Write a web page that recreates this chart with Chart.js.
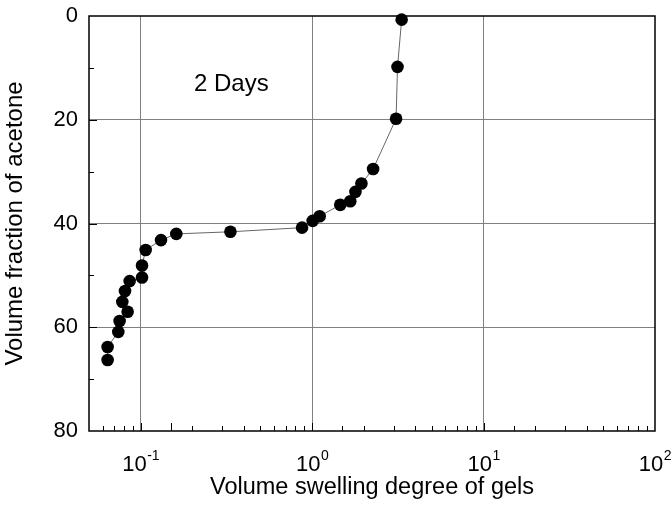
<!DOCTYPE html>
<html>
<head>
<meta charset="utf-8">
<script src="https://cdn.jsdelivr.net/npm/chart.js@4/dist/chart.umd.min.js"></script>
<style>
html, body { margin: 0; padding: 0; background: #fff; }
</style>
</head>
<body>
<canvas id="chart" width="672" height="505"></canvas>
<script>
// Swelling data, ordered from 0 % acetone downwards
const swelling = [3.33, 3.15, 3.09, 2.27, 1.94, 1.79, 1.67, 1.46, 1.107, 1.008, 0.874, 0.334,
    0.1615, 0.1315, 0.107, 0.1019, 0.1019, 0.0863, 0.0811, 0.0782, 0.084, 0.0754, 0.0741, 0.0642, 0.0642];
const acetone = [0.7, 9.8, 19.8, 29.5, 32.3, 33.9, 35.7, 36.4, 38.6, 39.5, 40.8, 41.6,
    42.0, 43.2, 45.1, 48.1, 50.4, 51.1, 53.0, 55.1, 57.0, 58.8, 60.9, 63.8, 66.3];

const xDecades = [0.1, 1, 10, 100];
const xExponents = ['-1', '0', '1', '2'];
const yLabels = [0, 20, 40, 60, 80];
const note = '2 Days';

const FONT = "'Liberation Sans', Arial, sans-serif";
const GRID = '#808080';

function decadeOf(v) {
    return Math.pow(10, Math.floor(Math.log10(v) + 1e-9));
}

// inward ticks, frame, superscript x labels and the text note
const framePlugin = {
    id: 'frame',
    afterDraw(chart) {
        const { ctx, chartArea: a, scales: { x, y } } = chart;
        ctx.save();
        ctx.strokeStyle = '#000';
        ctx.lineWidth = 1;

        x.ticks.forEach(t => {
            const v = t.value;
            if (v <= x.min || v >= x.max) return;
            const m = Math.round(v / decadeOf(v));
            const len = m === 1 ? 8 : 5;
            const px = Math.round(x.getPixelForValue(v)) + 0.5;
            ctx.beginPath();
            ctx.moveTo(px, a.bottom);
            ctx.lineTo(px, a.bottom - len);
            ctx.stroke();
        });

        y.ticks.forEach(t => {
            const v = t.value;
            if (v <= y.min || v >= y.max) return;
            const len = yLabels.includes(v) ? 8 : 5;
            const py = Math.round(y.getPixelForValue(v)) + 0.5;
            ctx.beginPath();
            ctx.moveTo(a.left, py);
            ctx.lineTo(a.left + len, py);
            ctx.stroke();
        });

        ctx.lineWidth = 1.5;
        ctx.strokeRect(a.left, a.top, a.right - a.left, a.bottom - a.top);

        // x tick labels as 10 with superscript exponent
        ctx.fillStyle = '#000';
        ctx.textBaseline = 'alphabetic';
        ctx.textAlign = 'left';
        xDecades.forEach((v, i) => {
            const px = x.getPixelForValue(v);
            ctx.font = '22px ' + FONT;
            const wBase = ctx.measureText('10').width;
            ctx.font = '14px ' + FONT;
            const wExp = ctx.measureText(xExponents[i]).width;
            const start = px - (wBase + wExp) / 2;
            ctx.font = '22px ' + FONT;
            ctx.fillText('10', start, a.bottom + 40);
            ctx.font = '14px ' + FONT;
            ctx.fillText(xExponents[i], start + wBase + 0.5, a.bottom + 29);
        });

        ctx.font = '24px ' + FONT;
        ctx.textAlign = 'center';
        ctx.textBaseline = 'middle';
        ctx.fillText(note, x.getPixelForValue(0.338), y.getPixelForValue(13.2));
        ctx.restore();
    }
};

new Chart(document.getElementById('chart'), {
    type: 'scatter',
    data: {
        datasets: [{
            data: swelling.map((v, i) => ({ x: v, y: acetone[i] })),
            showLine: true,
            borderColor: '#666',
            borderWidth: 1,
            backgroundColor: '#000',
            pointBackgroundColor: '#000',
            pointBorderWidth: 0,
            pointRadius: 6.3,
            pointHoverRadius: 6.3,
            clip: false
        }]
    },
    options: {
        responsive: false,
        animation: false,
        layout: { padding: { top: 16, right: 17, left: 0, bottom: 0 } },
        plugins: {
            legend: { display: false },
            tooltip: { enabled: false }
        },
        scales: {
            x: {
                type: 'logarithmic',
                min: 0.05,
                max: 100,
                border: { display: false },
                grid: {
                    drawTicks: false,
                    lineWidth: 1,
                    color: c => {
                        const v = c.tick ? c.tick.value : 0;
                        return xDecades.includes(v) && v < 100 ? GRID : 'rgba(0,0,0,0)';
                    }
                },
                ticks: { display: false },
                title: {
                    display: true,
                    text: 'Volume swelling degree of gels',
                    color: '#000',
                    font: { family: FONT, size: 23.5 },
                    padding: { top: 0, bottom: 3 }
                },
                afterFit: s => {
                    s.height = 74;
                    s.paddingLeft = 0;
                    s.paddingRight = 0;
                }
            },
            y: {
                reverse: true,
                min: 0,
                max: 80,
                border: { display: false },
                grid: {
                    drawTicks: false,
                    lineWidth: 1,
                    color: c => {
                        const v = c.tick ? c.tick.value : 0;
                        return yLabels.includes(v) && v > 0 && v < 80 ? GRID : 'rgba(0,0,0,0)';
                    }
                },
                ticks: {
                    stepSize: 10,
                    padding: 11,
                    color: '#000',
                    font: { family: FONT, size: 22 },
                    callback: v => yLabels.includes(v) ? String(v) : ''
                },
                title: {
                    display: true,
                    text: 'Volume fraction of acetone',
                    color: '#000',
                    font: { family: FONT, size: 24 },
                    padding: { top: 1, bottom: 0 }
                },
                afterFit: s => {
                    s.width = 89;
                    s.paddingTop = 0;
                    s.paddingBottom = 0;
                }
            }
        }
    },
    plugins: [framePlugin]
});
</script>
</body>
</html>
